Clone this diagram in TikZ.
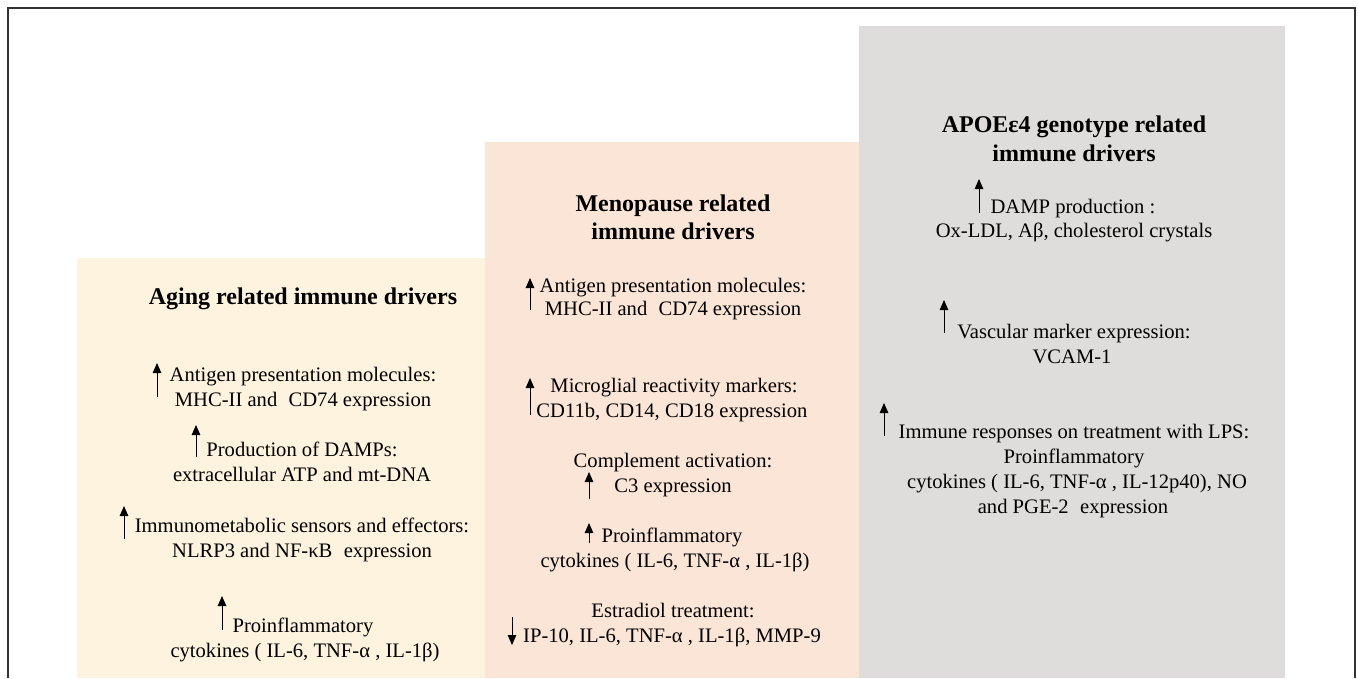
\documentclass[tikz,border=0pt]{standalone}
\usepackage{fontspec}
\setmainfont{Liberation Serif}
\usetikzlibrary{arrows.meta}
\definecolor{yellowbg}{HTML}{FDF3DE}
\definecolor{peachbg}{HTML}{FBE5D7}
\definecolor{graybg}{HTML}{DFDDDC}
\definecolor{framec}{HTML}{333333}
\begin{document}
\begin{tikzpicture}[x=1pt,y=-1pt,
  body/.style={anchor=base,font=\fontsize{20.6}{25}\selectfont,inner sep=0pt},
  ttl/.style={anchor=base,font=\fontsize{24}{28}\selectfont\bfseries,inner sep=0pt},
  uparrow/.style={line width=0.9pt,-{Triangle[width=8.5pt,length=10pt]}}]
\useasboundingbox (0,0) rectangle (1358,678);
\fill[white] (0,0) rectangle (1358,678);
% panels
\fill[yellowbg] (77,258) rectangle (485,678);
\fill[peachbg] (485,142) rectangle (859,678);
\fill[graybg] (859,26) rectangle (1285,678);
% frame
\draw[line width=1.5pt,framec] (8,678) -- (8,8) -- (1355,8) -- (1355,678);

% ---------- Aging column ----------
\node[ttl] (agT) at (303,304) {Aging related immune drivers};
\node[body] (ag1a) at (303,381) {Antigen presentation molecules:};
\node[body] (ag1b) at (303,406) {MHC-II and\hspace{0.3em} CD74 expression};
\node[body] (ag2a) at (302,456) {Production of DAMPs:};
\node[body] (ag2b) at (302,481) {extracellular ATP and mt-DNA};
\node[body] (ag3a) at (302,532) {Immunometabolic sensors and effectors:};
\node[body] (ag3b) at (302,557) {NLRP3 and NF-κB\hspace{0.3em} expression};
\node[body] (ag4a) at (303,632) {Proinflammatory};
\node[body] (ag4b) at (305,657) {cytokines ( IL-6, TNF-α , IL-1β)};
\coordinate (agA1s) at (157,397); \coordinate (agA1e) at (157,363);
\coordinate (agA2s) at (196,457); \coordinate (agA2e) at (196,425);
\coordinate (agA3s) at (124,539); \coordinate (agA3e) at (124,506);
\coordinate (agA4s) at (222,630); \coordinate (agA4e) at (222,596);
\draw[uparrow] (agA1s) -- (agA1e);
\draw[uparrow] (agA2s) -- (agA2e);
\draw[uparrow] (agA3s) -- (agA3e);
\draw[uparrow] (agA4s) -- (agA4e);

% ---------- Menopause column ----------
\node[ttl] (meT1) at (673,211) {Menopause related};
\node[ttl] (meT2) at (673,239) {immune drivers};
\node[body] (me1a) at (673,292) {Antigen presentation molecules:};
\node[body] (me1b) at (673,315) {MHC-II and\hspace{0.3em} CD74 expression};
\node[body] (me2a) at (674,392) {Microglial reactivity markers:};
\node[body] (me2b) at (672,417) {CD11b, CD14, CD18 expression};
\node[body] (me3a) at (673,467) {Complement activation:};
\node[body] (me3b) at (673,492) {C3 expression};
\node[body] (me4a) at (672,542) {Proinflammatory};
\node[body] (me4b) at (675,567) {cytokines ( IL-6, TNF-α , IL-1β)};
\node[body] (me5a) at (673,617) {Estradiol treatment:};
\node[body] (me5b) at (672,642) {IP-10, IL-6, TNF-α , IL-1β, MMP-9};
\coordinate (meA1s) at (530,310); \coordinate (meA1e) at (530,278);
\coordinate (meA2s) at (530,415); \coordinate (meA2e) at (530,378);
\coordinate (meA3s) at (589,499); \coordinate (meA3e) at (589,472);
\coordinate (meA4s) at (589,543); \coordinate (meA4e) at (589,523);
\coordinate (meA5s) at (512,617); \coordinate (meA5e) at (512,645);
\draw[uparrow] (meA1s) -- (meA1e);
\draw[uparrow] (meA2s) -- (meA2e);
\draw[uparrow] (meA3s) -- (meA3e);
\draw[uparrow] (meA4s) -- (meA4e);
\draw[uparrow] (meA5s) -- (meA5e);

% ---------- APOE column ----------
\node[ttl] (apT1) at (1074,132) {APOEε4 genotype related};
\node[ttl] (apT2) at (1074,161) {immune drivers};
\node[body] (ap1a) at (1073,213) {DAMP production :};
\node[body] (ap1b) at (1074,237) {Ox-LDL, Aβ, cholesterol crystals};
\node[body] (ap2a) at (1074,338) {Vascular marker expression:};
\node[body] (ap2b) at (1072,363) {VCAM-1};
\node[body] (ap3a) at (1074,438) {Immune responses on treatment with LPS:};
\node[body] (ap3b) at (1074,463) {Proinflammatory};
\node[body] (ap3c) at (1077,488) {cytokines ( IL-6, TNF-α , IL-12p40), NO};
\node[body] (ap3d) at (1073,513) {and PGE-2\hspace{0.3em} expression};
\coordinate (apA1s) at (979,213); \coordinate (apA1e) at (979,179);
\coordinate (apA2s) at (944,333); \coordinate (apA2e) at (944,300);
\coordinate (apA3s) at (884,436); \coordinate (apA3e) at (884,403);
\draw[uparrow] (apA1s) -- (apA1e);
\draw[uparrow] (apA2s) -- (apA2e);
\draw[uparrow] (apA3s) -- (apA3e);
\end{tikzpicture}
\end{document}
